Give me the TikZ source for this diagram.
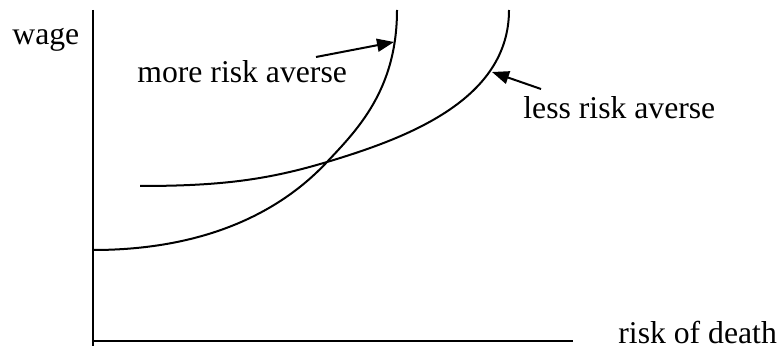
\documentclass[tikz,border=0pt]{standalone}
\usepackage{fontspec}
\setmainfont{Liberation Serif}
\usetikzlibrary{arrows.meta}
\begin{document}
\begin{tikzpicture}[
            x={(0.5pt,0pt)},
            y={(0pt,-0.5pt)},
            axis/.style={line width=1.1pt},
            curve/.style={line width=1pt},
            pointer/.style={line width=1pt, -{Triangle[length=8.5pt,width=6.5pt]}},
            txt/.style={inner sep=0pt, anchor=base west, font=\fontsize{15.85pt}{19pt}\selectfont}
        ]
        \useasboundingbox (0,0) rectangle (780,347);
        \coordinate (O) at (93,341);
        \coordinate (Ytop) at (93,10);
        \coordinate (Ybot) at (93,346);
        \coordinate (Xend) at (573,341);
        \coordinate (X) at (327,162);

        \draw[axis] (Ytop) -- (Ybot);
        \draw[axis] (O) -- (Xend);
        \node[txt] (wage) at (12,45) {wage};
        \node[txt] (death) at (618,343) {risk of death};

        % more risk averse
        \draw[curve] (93,250) .. controls (200,250) and (277,215.5) .. (X)
            .. controls (357,130) and (397,90) .. (397,10);
        % less risk averse
        \draw[curve] (140,186) .. controls (220,186) and (267,180) .. (X)
            .. controls (407,138) and (509,100) .. (509,10);

        \node[txt] (more) at (137,83) {more risk averse};
        \node[txt] (less) at (523,119) {less risk averse};
        \coordinate (M1) at (316,57);
        \coordinate (M2) at (394,42);
        \coordinate (L1) at (541,89);
        \coordinate (L2) at (492,72);
        \draw[pointer] (M1) -- (M2);
        \draw[pointer] (L1) -- (L2);
    \end{tikzpicture}
\end{document}
